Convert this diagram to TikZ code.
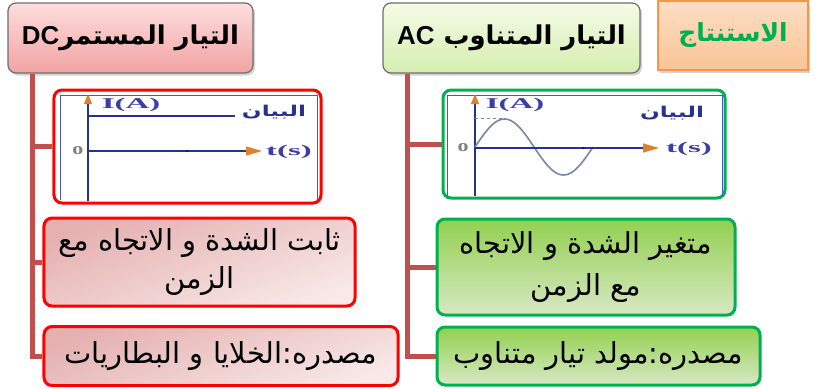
\documentclass[tikz,border=0pt]{standalone}
\usepackage{fontspec}
\setmainfont{Liberation Sans}
\newfontfamily\arabicfont[Script=Arabic]{DejaVu Sans}
\newfontfamily\latserif{Liberation Serif}
\TeXXeTstate=1
\usetikzlibrary{shadows,arrows.meta}
\definecolor{spine}{RGB}{192,80,77}
\definecolor{redb}{RGB}{255,0,0}
\definecolor{greenb}{RGB}{0,176,80}
\definecolor{headborder}{RGB}{110,110,110}
\definecolor{dcTop}{RGB}{253,222,222}
\definecolor{dcBot}{RGB}{242,162,162}
\definecolor{acTop}{RGB}{244,251,230}
\definecolor{acBot}{RGB}{214,238,176}
\definecolor{orTop}{RGB}{253,222,196}
\definecolor{orBot}{RGB}{250,196,150}
\definecolor{orBorder}{RGB}{247,150,70}
\definecolor{pinkA}{RGB}{229,176,176}
\definecolor{pinkB}{RGB}{248,232,232}
\definecolor{grA}{RGB}{146,208,80}
\definecolor{grB}{RGB}{216,232,196}
\definecolor{navy}{RGB}{40,50,140}
\definecolor{axorange}{RGB}{222,130,40}
\definecolor{lblue}{RGB}{60,60,170}
\definecolor{frameblue}{RGB}{70,90,190}
\definecolor{sinec}{RGB}{120,135,165}
\tikzset{
  head/.style={draw=headborder, line width=1.2bp, rounded corners=8bp, drop shadow={shadow xshift=2bp, shadow yshift=-2.5bp, opacity=0.35}, font=\arabicfont\bfseries\fontsize{26}{30}\selectfont, inner sep=0pt},
  graphbox/.style={fill=white, line width=3bp, rounded corners=8bp, inner sep=0pt},
  dcbox/.style={draw=redb, line width=3bp, rounded corners=8bp, top color=pinkA, bottom color=pinkB, shading angle=20, font=\arabicfont\fontsize{29}{39}\selectfont, align=center, inner sep=0pt},
  acbox/.style={draw=greenb, line width=3bp, rounded corners=8bp, top color=grA, bottom color=grB, font=\arabicfont\fontsize{29}{43}\selectfont, align=center, inner sep=0pt},
  conn/.style={draw=spine, line width=5bp},
  axis/.style={draw=navy, line width=1.2bp},
  axlbl/.style={text=lblue, font=\latserif\bfseries\fontsize{15}{16}\selectfont, inner sep=0pt},
  arlbl/.style={text=navy, font=\arabicfont\bfseries\fontsize{15}{16}\selectfont, inner sep=0pt},
  olbl/.style={text=gray, font=\latserif\bfseries\fontsize{17}{18}\selectfont, inner sep=0pt},
  bframe/.style={draw=frameblue, line width=0.8bp},
  tip/.style={-{Triangle[length=16bp,width=9bp,color=axorange]}},
  tipy/.style={-{Triangle[length=10bp,width=8bp,color=axorange]}}
}
\newcommand{\latbold}[1]{{\rmfamily\bfseries\fontsize{26}{30}\selectfont #1}}
\begin{document}
\begin{tikzpicture}[x=1bp,y=-1bp]
\useasboundingbox (0,0) rectangle (819,388);

% headers
\node[head, top color=dcTop, bottom color=dcBot, minimum width=245bp, minimum height=70bp] (dchead) at (130.5,38) {\beginR التيار المستمر\beginL\latbold{DC}\endL\endR};
\node[head, top color=acTop, bottom color=acBot, minimum width=257bp, minimum height=70bp] (achead) at (511.5,38) {\beginR التيار المتناوب \beginL\latbold{AC}\endL\endR};
\node[draw=orBorder, line width=2bp, top color=orTop, bottom color=orBot, minimum width=150bp, minimum height=69bp, drop shadow={shadow xshift=2bp, shadow yshift=-2.5bp, opacity=0.35}, text=greenb, font=\arabicfont\bfseries\fontsize{25}{28}\selectfont, inner sep=0pt] (concl) at (733,35.5) {\beginR الاستنتاج\endR};

% graph boxes
\node[graphbox, draw=redb, minimum width=267bp, minimum height=113bp] (dcg) at (187.5,146.5) {};
\node[graphbox, draw=greenb, minimum width=282bp, minimum height=108bp] (acg) at (584,144) {};

% text boxes
\node[dcbox, minimum width=311bp, minimum height=88bp] (dcb2) at (199.5,262) {\beginR ثابت الشدة و الاتجاه مع\endR\\\beginR الزمن\endR};
\node[dcbox, minimum width=354bp, minimum height=59bp] (dcb3) at (221,356) {\beginR مصدره:الخلايا و البطاريات\endR};
\node[acbox, minimum width=298bp, minimum height=96bp] (acb2) at (586,267) {\beginR متغير الشدة و الاتجاه\endR\\\beginR مع الزمن\endR};
\node[acbox, minimum width=323bp, minimum height=58bp] (acb3) at (598.5,356) {\beginR مصدره:مولد تيار متناوب\endR};

% connectors
\coordinate (dcsp) at ([xshift=25bp]dchead.south west);
\coordinate (acsp) at ([xshift=25bp]achead.south west);
\draw[conn] (dcsp) |- (dcg.west);
\draw[conn] (dcsp) |- (dcb2.west);
\draw[conn] (dcsp) |- (dcb3.west);
\draw[conn] (acsp) |- (acg.west);
\draw[conn] (acsp) |- (acb2.west);
\draw[conn] (acsp) |- (acb3.west);

% DC graph content
\draw[bframe] (60,200) -- (60,95) -- (317,95) -- (317,200);
\draw[axis, tipy] (88,201) -- (88,94);
\draw[axis] (88,116) -- (235,116);
\draw[axis, tip] (88,151) -- (262,151);
\fill (187,151) circle (0.9bp);
\node[axlbl] (dcI) at (131,105) {\scalebox{2.2}[1]{I(A)}};
\node[axlbl] (dct) at (289,152) {\scalebox{2.2}[1]{t(s)}};
\node[olbl] (dco) at (78,151) {\scalebox{1.3}[1]{o}};
\node[arlbl] (dcbay) at (274,112) {\scalebox{1.55}[1]{\beginR البيان\endR}};

% AC graph content
\draw[bframe] (447,196) -- (447,95) -- (722,95) -- (722,196);
\draw[axis, tipy] (475,196) -- (475,94);
\draw[sinec, line width=0.8bp, dashed] (475,118) -- (503,118);
\draw[sinec, line width=1.6bp] plot[domain=0:1, samples=60, smooth] ({475+118*\x}, {147-28*sin(360*\x)});
\draw[axis, tip] (475,148) -- (659,148);
\fill (583,148) circle (0.9bp);
\node[axlbl] (acI) at (515,105) {\scalebox{2.2}[1]{I(A)}};
\node[axlbl] (act) at (689,149) {\scalebox{2.2}[1]{t(s)}};
\node[olbl] (aco) at (463,148) {\scalebox{1.3}[1]{o}};
\node[arlbl] (acbay) at (672,113) {\scalebox{1.55}[1]{\beginR البيان\endR}};
\end{tikzpicture}
\end{document}
